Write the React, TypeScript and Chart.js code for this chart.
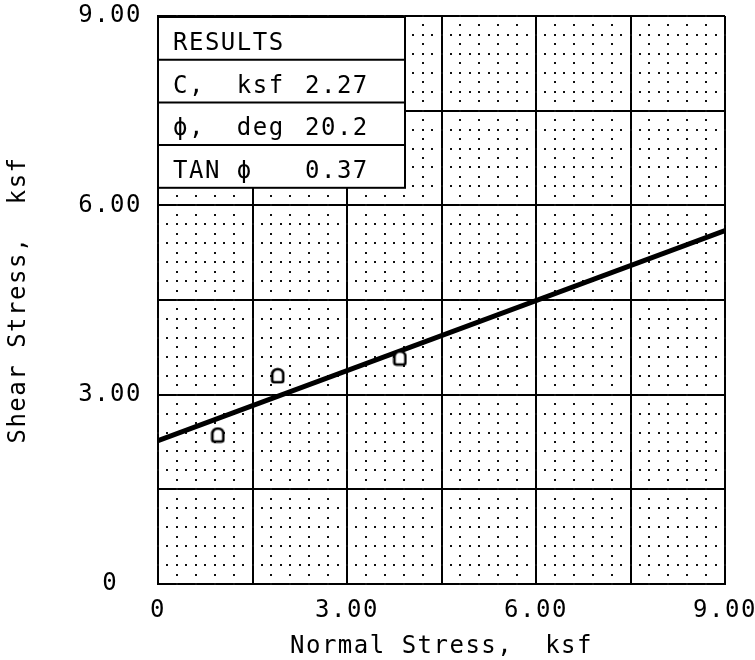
import React, { useEffect, useRef } from 'react';
import { Chart, registerables } from 'chart.js';

Chart.register(...registerables);

// ---- data ----
const testNormal = [0.95, 1.9, 3.84];
const testShear = [2.36, 3.3, 3.58];
const fitNormal = [0, 9];
const fitShear = [2.27, 5.6];
const tickValues = [0, 3, 6, 9];
const tickLabels = ['0', '3.00', '6.00', '9.00'];
const resultTitle = 'RESULTS';
const resultNames = ['C,  ksf', 'ϕ,  deg', 'TAN ϕ'];
const resultValues = ['2.27', '20.2', '0.37'];
const xTitle = 'Normal Stress,  ksf';
const yTitle = 'Shear Stress,  ksf';
const axisMin = 0;
const axisMax = 9;
const majorStep = 1.5;
const minorStep = 0.3;
const dotStep = 0.15;

const FONT_FAMILY = "'DejaVu Sans Mono', monospace";
const FONT_SIZE = 24;
const SPACING = '1.5px';

const labelFor = (v: number) => {
  const i = tickValues.findIndex((t) => Math.abs(t - v) < 1e-6);
  return i >= 0 ? tickLabels[i] : '';
};

const spacingPlugin = {
  id: 'spacing',
  beforeUpdate(chart: any) {
    chart.ctx.letterSpacing = SPACING;
  },
  beforeDraw(chart: any) {
    chart.ctx.letterSpacing = SPACING;
  },
};

const minorGridPlugin = {
  id: 'minorGrid',
  beforeDatasetsDraw(chart: any) {
    const { ctx, scales } = chart;
    const x = scales.x;
    const y = scales.y;
    ctx.save();
    ctx.fillStyle = '#111';
    const nMinor = Math.round((axisMax - axisMin) / minorStep);
    const perMajor = Math.round(majorStep / minorStep);
    const nDots = Math.round((axisMax - axisMin) / dotStep);
    for (let k = 1; k < nMinor; k++) {
      if (k % perMajor === 0) continue;
      const v = axisMin + k * minorStep;
      for (let m = 0; m <= nDots; m++) {
        const t = axisMin + m * dotStep;
        const px = x.getPixelForValue(v);
        const py = y.getPixelForValue(t);
        ctx.fillRect(Math.round(px) - 1, Math.round(py) - 1, 2, 2);
        const qx = x.getPixelForValue(t);
        const qy = y.getPixelForValue(v);
        ctx.fillRect(Math.round(qx) - 1, Math.round(qy) - 1, 2, 2);
      }
    }
    ctx.restore();
  },
};

const tablePlugin = {
  id: 'resultsTable',
  afterDatasetsDraw(chart: any) {
    const { ctx, chartArea } = chart;
    const left = chartArea.left;
    const top = chartArea.top + 1;
    const w = 247;
    const rowH = 42.7;
    const rows = 1 + resultNames.length;
    ctx.save();
    ctx.fillStyle = '#fff';
    ctx.fillRect(left, top, w, rowH * rows);
    ctx.strokeStyle = '#000';
    ctx.lineWidth = 2;
    ctx.strokeRect(left, top, w, rowH * rows);
    for (let i = 1; i < rows; i++) {
      ctx.beginPath();
      ctx.moveTo(left, top + rowH * i);
      ctx.lineTo(left + w, top + rowH * i);
      ctx.stroke();
    }
    ctx.fillStyle = '#000';
    ctx.font = `${FONT_SIZE}px ${FONT_FAMILY}`;
    ctx.letterSpacing = SPACING;
    ctx.textAlign = 'left';
    ctx.textBaseline = 'alphabetic';
    ctx.fillText(resultTitle, left + 15, top + 33);
    resultNames.forEach((name, i) => {
      const base = top + rowH * (i + 1) + 33;
      ctx.fillText(name, left + 15, base);
      ctx.fillText(resultValues[i], left + 147, base);
    });
    ctx.restore();
  },
};

function makeMarker() {
  const c = document.createElement('canvas');
  c.width = 15;
  c.height = 17;
  const g = c.getContext('2d') as CanvasRenderingContext2D;
  g.lineWidth = 2.6;
  g.strokeStyle = '#000';
  g.fillStyle = '#fff';
  g.beginPath();
  (g as any).roundRect(2, 2, 11, 13, [5, 5, 2, 2]);
  g.fill();
  g.stroke();
  return c;
}

export default function App() {
  const ref = useRef<HTMLCanvasElement | null>(null);

  useEffect(() => {
    if (!ref.current) return;
    const font = { family: FONT_FAMILY, size: FONT_SIZE, weight: 'normal' as const };
    const marker = makeMarker();
    const chart = new Chart(ref.current, {
      type: 'scatter',
      data: {
        datasets: [
          {
            data: fitNormal.map((x, i) => ({ x, y: fitShear[i] })),
            showLine: true,
            borderColor: '#000',
            borderWidth: 5,
            pointRadius: 0,
            order: 2,
          },
          {
            data: testNormal.map((x, i) => ({ x, y: testShear[i] })),
            showLine: false,
            pointStyle: marker as any,
            pointRadius: 6,
            order: 1,
          },
        ],
      },
      options: {
        responsive: false,
        animation: false,
        devicePixelRatio: 1,
        layout: { padding: { top: 16, right: 30, left: 0, bottom: 0 } },
        plugins: { legend: { display: false }, tooltip: { enabled: false } },
        scales: {
          x: {
            type: 'linear',
            min: axisMin,
            max: axisMax,
            ticks: {
              stepSize: majorStep,
              callback: (v: any) => labelFor(Number(v)),
              font,
              color: '#000',
              padding: 12,
              maxRotation: 0,
              autoSkip: false,
            },
            grid: { color: '#000', lineWidth: 2, drawTicks: false },
            border: { display: true, color: '#000', width: 2 },
            title: { display: true, text: xTitle, font, color: '#000', padding: { top: 0, bottom: -1 } },
            afterFit: (s: any) => {
              s.height = 76;
              s.paddingLeft = 0;
              s.paddingRight = 0;
            },
          },
          y: {
            type: 'linear',
            min: axisMin,
            max: axisMax,
            ticks: {
              stepSize: majorStep,
              callback: (v: any) => labelFor(Number(v)),
              font,
              color: '#000',
              padding: 16,
              crossAlign: 'center',
              autoSkip: false,
            },
            grid: { color: '#000', lineWidth: 2, drawTicks: false },
            border: { display: true, color: '#000', width: 2 },
            title: { display: true, text: yTitle, font, color: '#000', padding: { top: 4, bottom: 0 } },
            afterFit: (s: any) => {
              s.width = 158;
              s.paddingTop = 0;
              s.paddingBottom = 0;
            },
          },
        },
      },
      plugins: [spacingPlugin, minorGridPlugin, tablePlugin],
    });
    return () => chart.destroy();
  }, []);

  return (
    <div style={{ position: 'absolute', left: 0, top: 0, width: 755, height: 660, background: '#fff' }}>
      <canvas ref={ref} width={755} height={660} style={{ display: 'block' }} />
    </div>
  );
}
